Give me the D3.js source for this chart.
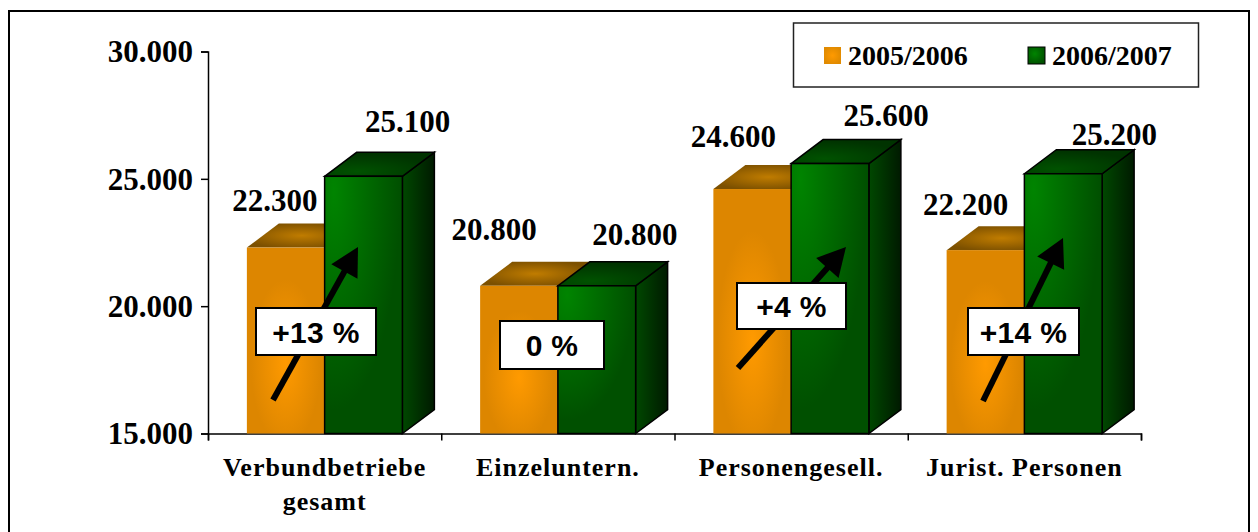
<!DOCTYPE html>
<html>
<head>
<meta charset="utf-8">
<script src="https://cdnjs.cloudflare.com/ajax/libs/d3/7.8.5/d3.min.js"></script>
<style>
  html, body { margin: 0; padding: 0; background: #fff; }
  svg { display: block; }
  text { font-family: "Liberation Serif", serif; font-weight: bold; fill: #000; }
  .pct { font-family: "Liberation Sans", sans-serif; }
</style>
</head>
<body>
<script>
var categories = ["Verbundbetriebe gesamt", "Einzeluntern.", "Personengesell.", "Jurist. Personen"];
var seriesNames = ["2005/2006", "2006/2007"];
var values0506 = [22300, 20800, 24600, 22200];
var values0607 = [25100, 20800, 25600, 25200];
var yTicks = [15000, 20000, 25000, 30000];
var changes = ["+13 %", "0 %", "+4 %", "+14 %"];

// layout only, hand placed like in the original slide
var labelOffsets0506 = [[-11, -37], [-25, -46], [-19, -42], [-20, -35]];
var labelOffsets0607 = [[44, -44], [38, -41], [56, -38], [51, -29]];
var changeBoxes = [[256, 308, 120, 47], [500, 321, 104, 48], [737, 283, 109, 46], [968, 308, 111, 47]];
var changeArrows = [[273, 400, 358, 247], null, [738, 368, 846, 247], [983, 401, 1063, 238]];

var width = 1258, height = 532;
var depthX = 32, depthY = 24;
var headLength = 28;

var svg = d3.select("body").append("svg")
    .attr("width", width)
    .attr("height", height);

var defs = svg.append("defs");

function radial(id, cx, cy, r, inner, outer) {
  var g = defs.append("radialGradient").attr("id", id)
      .attr("cx", cx).attr("cy", cy).attr("r", r);
  g.append("stop").attr("offset", "0%").attr("stop-color", inner);
  g.append("stop").attr("offset", "100%").attr("stop-color", outer);
}
function linear(id, c0, c1) {
  var g = defs.append("linearGradient").attr("id", id);
  g.append("stop").attr("offset", "0%").attr("stop-color", c0);
  g.append("stop").attr("offset", "100%").attr("stop-color", c1);
}
radial("orangeFront", "50%", "62%", "45%", "#ff9a00", "#dd8600");
radial("orangeTop", "50%", "50%", "55%", "#c07c00", "#7c5000");
radial("greenFront", "12%", "6%", "85%", "#008400", "#005000");
radial("greenTop", "30%", "80%", "75%", "#005200", "#003300");
linear("greenSide", "#004800", "#001a00");
radial("orangeSwatch", "50%", "50%", "55%", "#ff9a00", "#e08a00");
radial("greenSwatch", "40%", "40%", "65%", "#008400", "#005000");

// frame, open at the bottom
svg.append("path")
    .attr("d", d3.line()([[9, height], [9, 11], [1249, 11], [1249, height]]))
    .attr("fill", "none")
    .attr("stroke", "#000")
    .attr("stroke-width", 2);

var x0 = d3.scaleBand().domain(categories).range([208, 1141]);
var x1 = d3.scaleBand().domain(seriesNames).range([0, x0.bandwidth()]).paddingOuter(0.5).paddingInner(0);
var xEdges = d3.scaleLinear().domain([0, categories.length]).range([208, 1141]);
var y = d3.scaleLinear().domain([15000, 30000]).range([433.5, 51.5]);

function germanNumber(v) {
  return d3.format(",")(v).replace(/,/g, ".");
}

var yAxis = svg.append("g")
    .attr("transform", "translate(208,0)")
    .call(d3.axisLeft(y).tickValues(yTicks).tickFormat(germanNumber).tickSize(7).tickPadding(8));

var xAxis = svg.append("g")
    .attr("transform", "translate(0,433.5)")
    .call(d3.axisBottom(xEdges).ticks(categories.length).tickFormat("").tickSize(7).tickSizeOuter(7));

svg.selectAll(".domain, .tick line").attr("stroke", "#000").attr("stroke-width", 1.5);

yAxis.selectAll("text")
    .style("font-family", '"Liberation Serif", serif')
    .style("font-size", "31px")
    .attr("dy", "0.33em");

function drawBars(values, name, front, top, side, stroke) {
  var g = svg.append("g").selectAll("g")
      .data(categories)
    .enter().append("g")
      .attr("transform", function(d) { return "translate(" + (x0(d) + x1(name)) + ",0)"; });

  var w = x1.bandwidth();

  if (side) {
    g.append("path")
        .attr("d", function(d, i) {
          var t = y(values[i]), b = y(15000);
          return d3.line()([[w, t], [w + depthX, t - depthY], [w + depthX, b - depthY], [w, b]]) + "Z";
        })
        .attr("fill", "url(#" + side + ")")
        .attr("stroke", stroke)
        .attr("stroke-width", 1.5);
  }

  g.append("path")
      .attr("d", function(d, i) {
        var t = y(values[i]);
        return d3.line()([[0, t], [depthX, t - depthY], [w + depthX, t - depthY], [w, t]]) + "Z";
      })
      .attr("fill", "url(#" + top + ")")
      .attr("stroke", stroke)
      .attr("stroke-width", 1.5);

  g.append("rect")
      .attr("x", 0)
      .attr("y", function(d, i) { return y(values[i]); })
      .attr("width", w)
      .attr("height", function(d, i) { return y(15000) - y(values[i]); })
      .attr("fill", "url(#" + front + ")")
      .attr("stroke", stroke)
      .attr("stroke-width", 1.5);
}

drawBars(values0506, seriesNames[0], "orangeFront", "orangeTop", null, "none");
drawBars(values0607, seriesNames[1], "greenFront", "greenTop", "greenSide", "#000");

function drawLabels(values, offsets, name) {
  svg.append("g").selectAll("text")
      .data(values)
    .enter().append("text")
      .attr("x", function(d, i) { return x0(categories[i]) + x1(name) + x1.bandwidth() / 2 + offsets[i][0]; })
      .attr("y", function(d, i) { return y(d) + offsets[i][1]; })
      .attr("text-anchor", "middle")
      .style("font-size", "31px")
      .text(germanNumber);
}
drawLabels(values0506, labelOffsets0506, seriesNames[0]);
drawLabels(values0607, labelOffsets0607, seriesNames[1]);

// category names, first one wraps on two lines
var catLabels = svg.append("g").selectAll("text")
    .data(categories)
  .enter().append("text")
    .attr("x", function(d) { return x0(d) + x0.bandwidth() / 2; })
    .attr("y", 476)
    .attr("text-anchor", "middle")
    .style("font-size", "26px")
    .style("letter-spacing", "1px");

catLabels.each(function(d) {
  var el = d3.select(this);
  var parts = d === "Verbundbetriebe gesamt" ? d.split(" ") : [d];
  parts.forEach(function(p, i) {
    el.append("tspan")
        .attr("x", x0(d) + x0.bandwidth() / 2)
        .attr("dy", i ? 34 : 0)
        .text(p);
  });
});

// arrows: shaft stops inside the head so the tip stays sharp
var arrows = svg.append("g").selectAll("g")
    .data(changeArrows.filter(function(d) { return d; }))
  .enter().append("g")
    .attr("transform", function(d) {
      var a = Math.atan2(d[3] - d[1], d[2] - d[0]) * 180 / Math.PI;
      return "translate(" + d[2] + "," + d[3] + ")rotate(" + a + ")";
    });

arrows.append("line")
    .attr("x1", function(d) { return -Math.hypot(d[2] - d[0], d[3] - d[1]); })
    .attr("x2", -headLength + 2)
    .attr("stroke", "#000")
    .attr("stroke-width", 6);

arrows.append("path")
    .attr("d", d3.line()([[0, 0], [-headLength, -15], [-headLength, 15]]) + "Z")
    .attr("fill", "#000");

var boxes = svg.append("g").selectAll("g")
    .data(changes)
  .enter().append("g");

boxes.append("rect")
    .attr("x", function(d, i) { return changeBoxes[i][0]; })
    .attr("y", function(d, i) { return changeBoxes[i][1]; })
    .attr("width", function(d, i) { return changeBoxes[i][2]; })
    .attr("height", function(d, i) { return changeBoxes[i][3]; })
    .attr("fill", "#fff")
    .attr("stroke", "#000")
    .attr("stroke-width", 2);

boxes.append("text")
    .attr("class", "pct")
    .attr("x", function(d, i) { return changeBoxes[i][0] + changeBoxes[i][2] / 2; })
    .attr("y", function(d, i) { return changeBoxes[i][1] + changeBoxes[i][3] / 2 + 11; })
    .attr("text-anchor", "middle")
    .style("font-size", "30px")
    .style("letter-spacing", "0.3px")
    .text(function(d) { return d; });

// legend
var legend = svg.append("g");
legend.append("rect")
    .attr("x", 793.5).attr("y", 23)
    .attr("width", 405).attr("height", 64)
    .attr("fill", "#fff")
    .attr("stroke", "#222")
    .attr("stroke-width", 1.5);

var legendX = [824, 1028];
var legendFill = ["orangeSwatch", "greenSwatch"];
var items = legend.selectAll("g")
    .data(seriesNames)
  .enter().append("g")
    .attr("transform", function(d, i) { return "translate(" + legendX[i] + ",47)"; });

items.append("rect")
    .attr("width", 17).attr("height", 17)
    .attr("fill", function(d, i) { return "url(#" + legendFill[i] + ")"; })
    .attr("stroke", function(d, i) { return i ? "#000" : "none"; });

items.append("text")
    .attr("x", 24).attr("y", 18)
    .style("font-size", "28px")
    .text(function(d) { return d; });
</script>
</body>
</html>
